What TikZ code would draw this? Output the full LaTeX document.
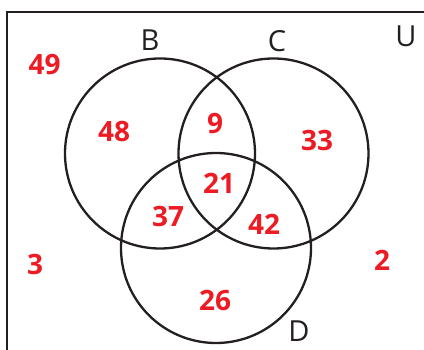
\documentclass[tikz,border=0pt]{standalone}
\usepackage{fontspec}
\setmainfont{Open Sans}
\definecolor{numred}{HTML}{ED1C24}
\definecolor{ink}{HTML}{231F20}
\begin{document}
\begin{tikzpicture}[x=1pt,y=-1pt,
  setcirc/.style={draw=ink,line width=2.3pt},
  setlabel/.style={font=\fontsize{29}{30}\selectfont,text=ink,inner sep=0pt},
  num/.style={font=\fontsize{28}{30}\selectfont\bfseries,text=numred,inner sep=0pt}]
\useasboundingbox (0,0) rectangle (424,350);
\draw[ink,line width=2.5pt] (7,360) -- (7,12) -- (440,12);
\node[setcirc,circle,minimum size=190pt,inner sep=0pt] (B) at (160,153.5) {};
\node[setcirc,circle,minimum size=190pt,inner sep=0pt] (C) at (273.5,153.5) {};
\node[setcirc,circle,minimum size=190pt,inner sep=0pt] (D) at (216,248) {};
\node[setlabel] (lB) at (150,40) {B};
\node[setlabel] (lC) at (277,41) {C};
\node[setlabel] (lU) at (406,36) {U};
\node[setlabel] (lD) at (299,331) {D};
\node[num] (n49) at (44.5,65) {49};
\node[num] (n48) at (114,132) {48};
\node[num] (n9) at (215,124) {9};
\node[num] (n33) at (317,141) {33};
\node[num] (n21) at (219,183) {21};
\node[num] (n37) at (168,216) {37};
\node[num] (n42) at (264,224) {42};
\node[num] (n3) at (35,264) {3};
\node[num] (n26) at (215,300) {26};
\node[num] (n2) at (382,260) {2};
\end{tikzpicture}
\end{document}
